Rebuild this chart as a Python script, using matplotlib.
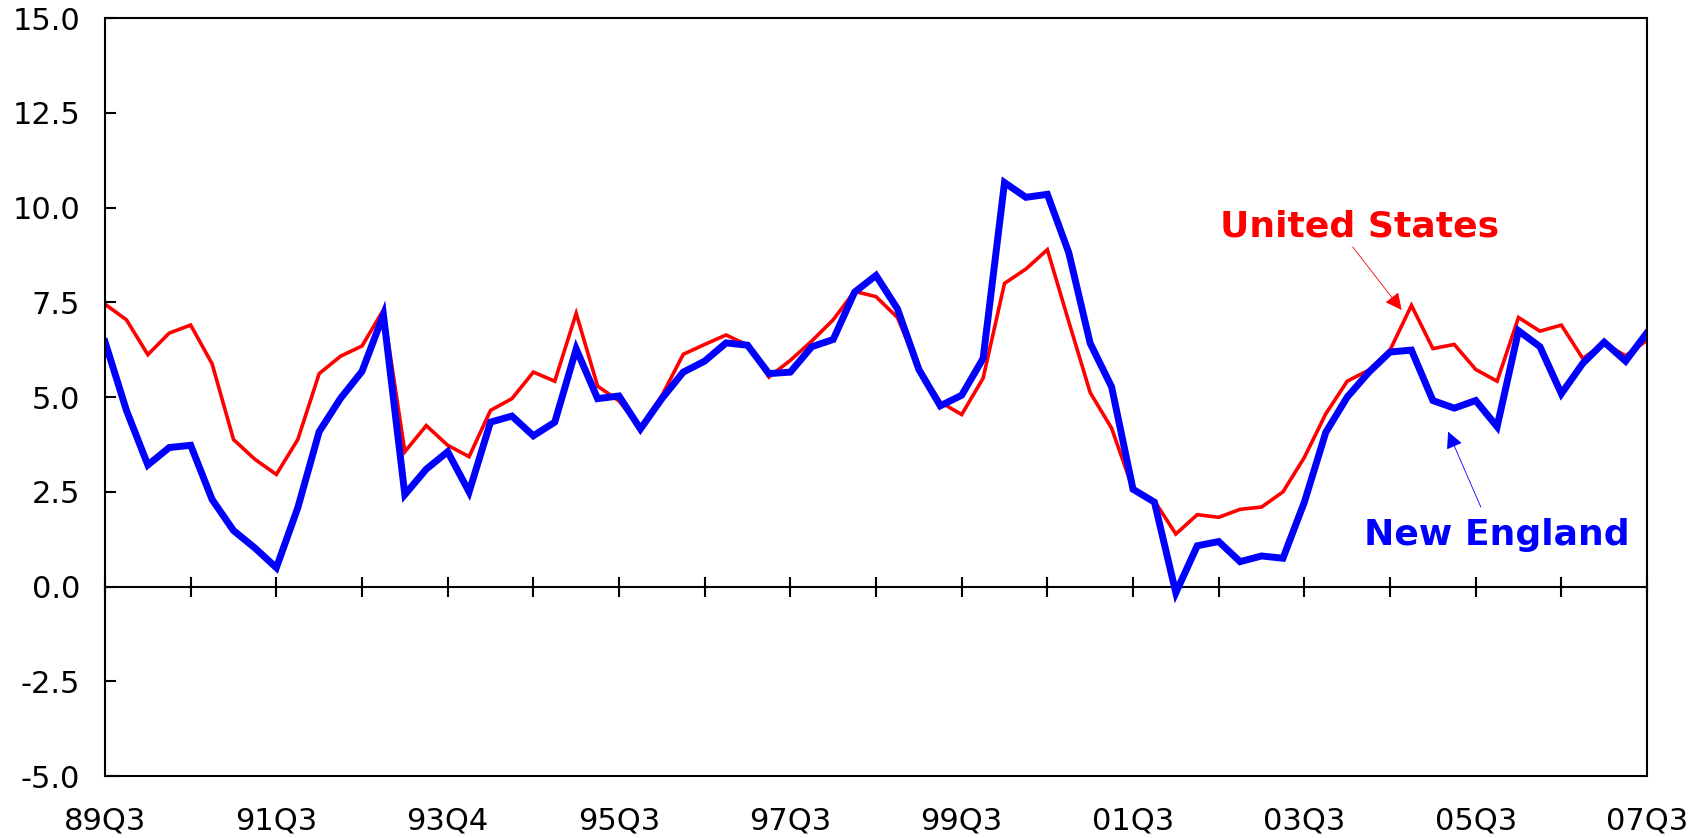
import numpy as np
import matplotlib
matplotlib.use("Agg")
import matplotlib.pyplot as plt

# quarterly series, 89Q3 .. 07Q3
us = [7.45, 7.04, 6.12, 6.69, 6.90, 5.88, 3.88, 3.36, 2.96, 3.88, 5.62, 6.08,
      6.35, 7.30, 3.56, 4.25, 3.73, 3.43, 4.65, 4.96, 5.66, 5.42, 7.21, 5.29,
      4.90, 4.18, 5.04, 6.13, 6.39, 6.64, 6.37, 5.53, 5.97, 6.48, 7.04, 7.79,
      7.65, 7.10, 5.75, 4.87, 4.54, 5.50, 8.00, 8.38, 8.89, 6.99, 5.12, 4.18,
      2.57, 2.26, 1.39, 1.90, 1.83, 2.04, 2.10, 2.50, 3.41, 4.56, 5.42, 5.71,
      6.24, 7.42, 6.28, 6.39, 5.73, 5.42, 7.10, 6.74, 6.90, 6.02, 6.42, 6.09,
      6.50]
ne = [6.46, 4.65, 3.21, 3.67, 3.73, 2.30, 1.48, 1.02, 0.50, 2.08, 4.09, 4.97,
      5.68, 7.17, 2.43, 3.10, 3.56, 2.50, 4.34, 4.50, 3.98, 4.34, 6.27, 4.96,
      5.03, 4.16, 4.96, 5.66, 5.95, 6.43, 6.37, 5.62, 5.66, 6.33, 6.52, 7.77,
      8.21, 7.33, 5.73, 4.77, 5.05, 6.02, 10.66, 10.27, 10.35, 8.81, 6.42, 5.27,
      2.57, 2.23, -0.16, 1.08, 1.19, 0.66, 0.81, 0.75, 2.23, 4.07, 5.00, 5.65,
      6.19, 6.24, 4.91, 4.71, 4.91, 4.22, 6.75, 6.33, 5.09, 5.89, 6.45, 5.95,
      6.70]
x_labels = ['89Q3', '91Q3', '93Q4', '95Q3', '97Q3', '99Q3', '01Q3', '03Q3', '05Q3', '07Q3']
y_ticks = [-5.0, -2.5, 0.0, 2.5, 5.0, 7.5, 10.0, 12.5, 15.0]

x = np.arange(len(us))

fig = plt.figure(figsize=(17.02, 8.38), dpi=100)
ax = fig.add_axes([0.0617, 0.0737, 0.906, 0.9048])

ax.plot(x, us, color='#FF0000', lw=2.6, solid_joinstyle='miter')
ax.plot(x, ne, color='#0000FF', lw=5.0, solid_joinstyle='miter')

ax.set_xlim(0, len(us) - 1)
ax.set_ylim(-5, 15)

# labels along the bottom, no tick marks there
ax.set_xticks(x[::8])
ax.set_xticklabels(x_labels)
ax.tick_params(axis='x', length=0, pad=22, labelsize=22)

ax.set_yticks(y_ticks)
ax.set_yticklabels(['%.1f' % v for v in y_ticks])
ax.tick_params(axis='y', direction='in', length=7.7, width=1.5, pad=18, labelsize=22)

for s in ax.spines.values():
    s.set_linewidth(1.5)

# zero line with yearly ticks crossing it
zero_pos = (0 - (-5)) / (15 - (-5))
sec = ax.secondary_xaxis(zero_pos)
sec.set_xticks(x[::4])
sec.tick_params(direction='inout', length=14, width=1.5, labelbottom=False, labeltop=False)
for s in sec.spines.values():
    s.set_linewidth(1.5)

# labels with arrows
ax.text(58.6, 9.23, 'United States', color='#FF0000', fontsize=26, fontweight='bold',
        ha='center', va='baseline')
ax.annotate('', xy=(60.54, 7.30), xytext=(58.26, 8.96),
            arrowprops=dict(arrowstyle='-|>', color='#FF0000', lw=0.6,
                            mutation_scale=26, shrinkA=0, shrinkB=0))

ax.text(65.0, 1.10, 'New England', color='#0000FF', fontsize=26, fontweight='bold',
        ha='center', va='baseline')
ax.annotate('', xy=(62.71, 4.09), xytext=(64.24, 2.10),
            arrowprops=dict(arrowstyle='-|>', color='#0000FF', lw=0.6,
                            mutation_scale=26, shrinkA=0, shrinkB=0))

fig.savefig('out.png', dpi=100)
